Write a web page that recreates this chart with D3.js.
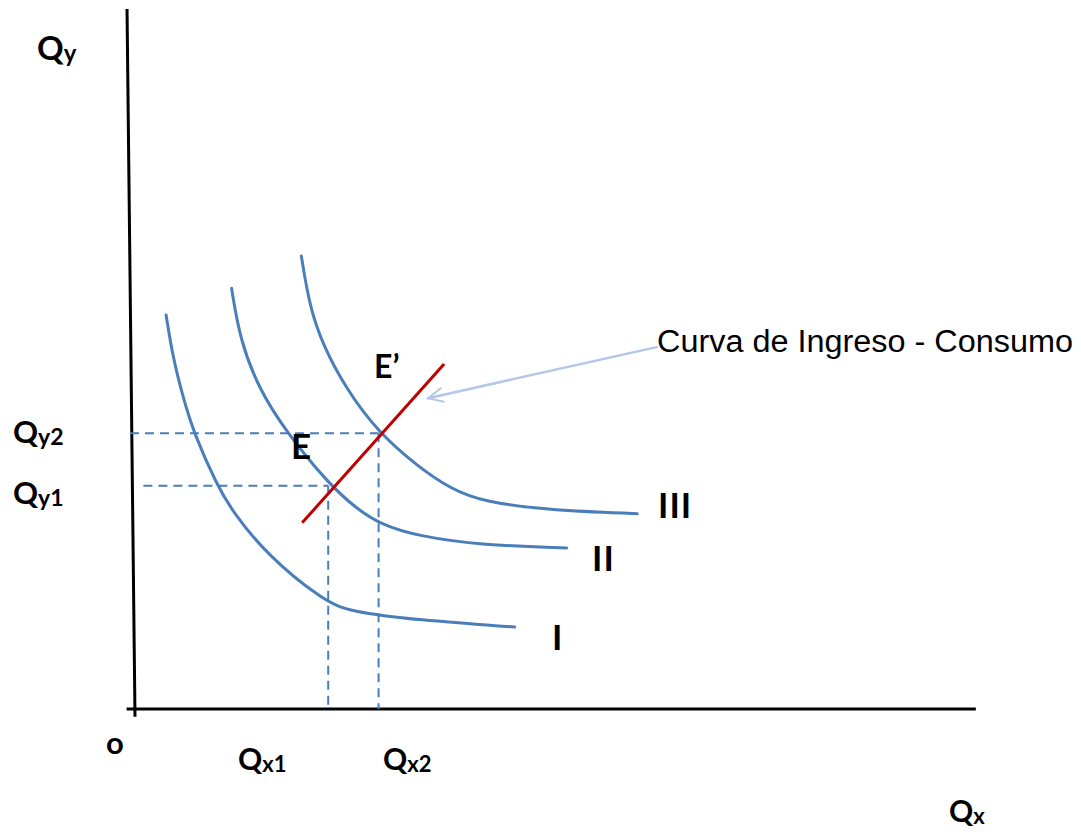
<!DOCTYPE html>
<html>
<head>
<meta charset="utf-8">
<script src="https://cdn.jsdelivr.net/npm/d3@7"></script>
<style>
  html, body { margin: 0; padding: 0; background: #fff; }
  .lbl { font-family: Lato, "Open Sans", sans-serif; font-weight: bold; fill: #000; }
  .note { font-family: "Liberation Sans", Arial, sans-serif; fill: #000; }
</style>
</head>
<body>
<div class="chart"></div>
<script>
// indifference curves, in axis units (x: 0..10, y: 0..10)
const curveI = [
  [0.37, 5.63], [0.45, 5.03], [0.57, 4.46], [0.70, 3.94], [0.98, 3.19], [1.15, 2.84],
  [1.57, 2.20], [2.24, 1.55], [2.56, 1.39], [3.36, 1.27], [4.52, 1.17]
];
const curveII = [
  [1.15, 6.01], [1.25, 5.27], [1.48, 4.56], [1.80, 3.96], [2.31, 3.21], [2.64, 2.86],
  [2.92, 2.64], [3.36, 2.47], [4.14, 2.34], [5.14, 2.30]
];
const curveIII = [
  [1.98, 6.47], [2.08, 5.74], [2.24, 5.19], [2.51, 4.58], [2.89, 3.96], [3.36, 3.47],
  [3.75, 3.15], [4.14, 2.96], [4.94, 2.84], [5.98, 2.79]
];
const curveNames = ['I', 'II', 'III'];

// income-consumption curve (red)
const icc = [[1.99, 2.66], [3.68, 4.93]];

// equilibrium quantities
const qx = [2.30, 2.90];
const qy = [3.19, 3.94];
const dashStart = [0.10, -0.06];

// arrow from the note to the red line
const arrowFrom = [6.21, 5.17];
const arrowTo = [3.49, 4.44];

const width = 1081, height = 834;

const x = d3.scaleLinear().domain([0, 10]).range([135, 975]);
const y = d3.scaleLinear().domain([0, 10]).range([709, 9]);

const svg = d3.select('.chart')
  .append('svg')
  .attr('width', width)
  .attr('height', height);

// axes (hand drawn look, y axis slightly tilted)
svg.append('line')
  .attr('x1', x(-0.095)).attr('y1', y(10))
  .attr('x2', x(0)).attr('y2', y(-0.11))
  .style('stroke', '#000').style('stroke-width', 3);
svg.append('line')
  .attr('x1', x(-0.1)).attr('y1', y(0))
  .attr('x2', x(10.01)).attr('y2', y(0))
  .style('stroke', '#000').style('stroke-width', 3);

// dashed guides
const guides = svg.append('g').attr('class', 'guides')
  .style('stroke', '#4a7ebb').style('stroke-width', 2)
  .style('stroke-dasharray', '9,6');
qy.forEach((v, i) => {
  guides.append('line')
    .attr('x1', x(dashStart[i])).attr('y1', y(v))
    .attr('x2', x(qx[i])).attr('y2', y(v));
  guides.append('line')
    .attr('x1', x(qx[i])).attr('y1', y(v))
    .attr('x2', x(qx[i])).attr('y2', y(0));
});

// indifference curves
const line = d3.line()
  .x(d => x(d[0]))
  .y(d => y(d[1]))
  .curve(d3.curveBasis);

svg.append('g').attr('class', 'curves')
  .selectAll('path')
  .data([curveI, curveII, curveIII])
  .enter()
  .append('path')
  .attr('d', d => line(d))
  .style('fill', 'none')
  .style('stroke', '#4a7ebb')
  .style('stroke-width', 3)
  .style('stroke-linecap', 'round');

// income-consumption curve
svg.append('path')
  .attr('d', d3.line().x(d => x(d[0])).y(d => y(d[1]))(icc))
  .style('fill', 'none')
  .style('stroke', '#c00000')
  .style('stroke-width', 3);

// arrow with open head
const ax0 = x(arrowFrom[0]), ay0 = y(arrowFrom[1]);
const ax1 = x(arrowTo[0]), ay1 = y(arrowTo[1]);
const ang = Math.atan2(ay0 - ay1, ax0 - ax1);
const headLen = 16, spread = 0.45;
const arrow = svg.append('g')
  .style('stroke', '#b4c7e7')
  .style('fill', 'none')
  .style('stroke-linecap', 'round');
arrow.append('line')
  .attr('x1', ax0).attr('y1', ay0)
  .attr('x2', ax1).attr('y2', ay1)
  .style('stroke-width', 2.5);
arrow.append('path')
  .attr('d', `M${ax1 + headLen * Math.cos(ang - spread)},${ay1 + headLen * Math.sin(ang - spread)}
    L${ax1},${ay1}
    L${ax1 + headLen * Math.cos(ang + spread)},${ay1 + headLen * Math.sin(ang + spread)}`)
  .style('stroke-width', 2);

// labels
function qlabel(px, py, sub, big, small) {
  const t = svg.append('text').attr('class', 'lbl').attr('x', px).attr('y', py);
  t.append('tspan').style('font-size', big + 'px').text('Q');
  t.append('tspan').style('font-size', small + 'px').attr('dy', 2).text(sub);
}
qlabel(37, 60, 'y', 33, 24);
qlabel(13, 443, 'y2', 31, 23);
qlabel(13, 504, 'y1', 31, 23);
qlabel(238, 770, 'x1', 30, 22);
qlabel(383, 770, 'x2', 30, 22);
qlabel(949, 822, 'x', 30, 22);

svg.append('text').attr('class', 'lbl')
  .attr('x', 106).attr('y', 754)
  .style('font-size', '31px').text('o');

svg.append('text').attr('class', 'lbl')
  .attr('x', 291).attr('y', 459)
  .style('font-size', '35px').text('E');
svg.append('text').attr('class', 'lbl')
  .attr('x', 374).attr('y', 378)
  .style('font-size', '32px').text('E\u2019');

const numPos = [[552, 650], [592, 571], [658, 518]];
svg.append('g').selectAll('text')
  .data(curveNames)
  .enter()
  .append('text')
  .attr('class', 'lbl')
  .attr('x', (d, i) => numPos[i][0])
  .attr('y', (d, i) => numPos[i][1])
  .style('font-size', '35px')
  .style('letter-spacing', '1px')
  .text(d => d);

svg.append('text').attr('class', 'note')
  .attr('x', 657).attr('y', 352)
  .style('font-size', '31px')
  .attr('textLength', 416)
  .attr('lengthAdjust', 'spacingAndGlyphs')
  .text('Curva de Ingreso - Consumo');
</script>
</body>
</html>
